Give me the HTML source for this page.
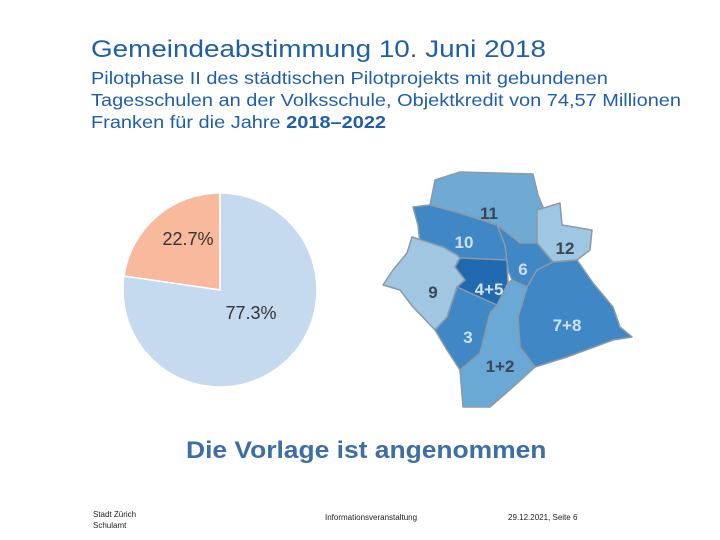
<!DOCTYPE html>
<html><head><meta charset="utf-8"><style>
body{margin:0;width:720px;height:540px;background:#fff;font-family:"Liberation Sans",sans-serif;position:relative;overflow:hidden}
.t{position:absolute;color:#1f5fa8;white-space:nowrap;transform-origin:0 0}
</style></head><body>
<div class="t" style="left:91px;top:36px;font-size:24px;transform:scaleX(1.16)">Gemeindeabstimmung 10. Juni 2018</div>
<div class="t" style="left:91px;top:67px;font-size:17.5px;line-height:22px;transform:scaleX(1.14)">Pilotphase II des städtischen Pilotprojekts mit gebundenen<br>Tagesschulen an der Volksschule, Objektkredit von 74,57 Millionen<br>Franken für die Jahre <b>2018–2022</b></div>
<svg width="720" height="540" style="position:absolute;left:0;top:0">
<g id="pie"></g>
<g id="map"></g>
</svg>
<div class="t" style="left:186px;top:437px;font-size:24px;font-weight:bold;color:#3d6ea6;transform:scaleX(1.1)">Die Vorlage ist angenommen</div>
<div class="t" style="left:93px;top:509px;font-size:8px;color:#222;line-height:11px">Stadt Zürich<br>Schulamt</div>
<div class="t" style="left:325px;top:513px;font-size:8px;color:#222">Informationsveranstaltung</div>
<div class="t" style="left:508px;top:513px;font-size:8px;color:#222">29.12.2021, Seite 6</div>
<script>
const labels=["Nein","Ja"];
const values=[22.7,77.3];
const colors=["#f8b99c","#c5d9ef"];
const labelPos=[[188,245],[251,319]];
const ns="http://www.w3.org/2000/svg";
const pie=document.getElementById('pie');
const cx=220,cy=290,r=97;
let total=values.reduce((a,b)=>a+b,0);
let a0=0;
values.forEach((v,i)=>{
  const a1=a0-v/total*2*Math.PI;
  const x0=cx+r*Math.sin(a0),y0=cy-r*Math.cos(a0),x1=cx+r*Math.sin(a1),y1=cy-r*Math.cos(a1);
  const large=(v/total>0.5)?1:0;
  const p=document.createElementNS(ns,'path');
  p.setAttribute('d',`M${cx},${cy}L${x0},${y0}A${r},${r} 0 ${large} 0 ${x1},${y1}Z`);
  p.setAttribute('fill',colors[i]);
  p.setAttribute('stroke','#fff');p.setAttribute('stroke-width','1.5');
  
  
  pie.appendChild(p);
  const t=document.createElementNS(ns,'text');
  t.setAttribute('x',labelPos[i][0]);t.setAttribute('y',labelPos[i][1]);
  t.setAttribute('text-anchor','middle');t.setAttribute('font-size','18');t.setAttribute('fill','#333');
  t.setAttribute('font-family','Liberation Sans, sans-serif');
  t.textContent=v.toFixed(1)+'%';
  
  
  pie.appendChild(t);
  a0=a1;
});
const districts=[
 ["11","#6faad5","#3a4654",[489,213],"435,180 460,172 533,174 538,195 545,212 537,230 537,243 520,243 497,225 460,213 430,205"],
 ["10","#3f88c5","#cfe0ef",[464,242],"413,207 430,205 460,213 497,225 505,245 510,262 507,262 460,258 457,255 443,247 420,243 418,225"],
 ["12","#9ec7e4","#3a4654",[565,248],"537,210 560,203 562,225 592,230 590,250 577,260 553,262 537,243"],
 ["6","#3f88c5","#cfe0ef",[523,269],"497,225 520,243 537,243 553,262 537,270 527,287 512,280 508,270 507,262 505,245"],
 ["7+8","#3f88c5","#cfe0ef",[567,325],"553,262 577,260 593,283 613,307 620,327 632,337 613,340 567,357 535,367 520,347 518,317 527,287 537,270"],
 ["1+2","#6aa8d6","#3a4654",[500,366],"527,287 518,317 520,347 535,367 513,387 490,407 463,407 460,370 480,353 490,313 497,305 508,283 512,280"],
 ["3","#3f88c5","#cfe0ef",[468,337],"457,287 497,305 490,313 480,353 460,370 447,350 435,330 447,317 455,293"],
 ["9","#a0c6e2","#3a4654",[433,292],"412,237 443,247 457,255 460,258 457,262 465,280 457,287 455,293 447,317 435,330 413,307 400,290 383,285 393,270 407,253"],
 ["4+5","#2169b0","#cfe0ef",[489,289],"455,267 460,258 507,260 508,283 497,305 457,287 465,280"]
];
const map=document.getElementById('map');
districts.forEach(d=>{
  const p=document.createElementNS(ns,'polygon');
  p.setAttribute('points',d[4]);p.setAttribute('fill',d[1]);
  p.setAttribute('stroke','#8a9aa8');p.setAttribute('stroke-width','1.5');p.setAttribute('stroke-linejoin','round');
  
  
  map.appendChild(p);
});
districts.forEach(d=>{
  const t=document.createElementNS(ns,'text');
  t.setAttribute('x',d[3][0]);t.setAttribute('y',d[3][1]+6);
  t.setAttribute('text-anchor','middle');t.setAttribute('font-size','17');t.setAttribute('font-weight','bold');
  t.setAttribute('fill',d[2]);t.setAttribute('font-family','Liberation Sans, sans-serif');
  t.textContent=d[0];
  
  
  map.appendChild(t);
});
</script>
</body></html>
